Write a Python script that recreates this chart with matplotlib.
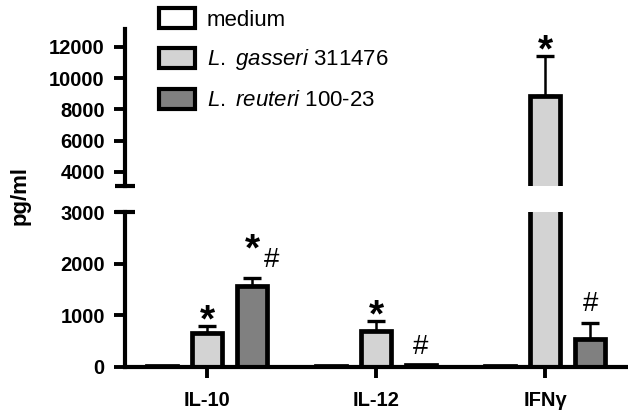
import matplotlib
matplotlib.use("Agg")
import matplotlib.pyplot as plt
import numpy as np
from matplotlib.patches import Patch

plt.rcParams['font.family'] = ['Liberation Sans', 'DejaVu Sans']
plt.rcParams['mathtext.fontset'] = 'custom'
plt.rcParams['mathtext.it'] = 'Liberation Sans:italic'
plt.rcParams['mathtext.rm'] = 'Liberation Sans'

# ---- data ----
cytokines = ["IL-10", "IL-12", "IFNγ"]
series = ["medium", "L. gasseri 311476", "L. reuteri 100-23"]
medium = [10, 10, 10]
medium_err = [0, 0, 0]
gasseri = [650, 690, 8850]
gasseri_err = [140, 200, 2580]
reuteri = [1560, 30, 540]
reuteri_err = [170, 0, 320]
colors = ["white", "#d3d3d3", "#808080"]
legend_labels = ["medium", r"$\mathit{L.\ gasseri}$ 311476", r"$\mathit{L.\ reuteri}$ 100-23"]
upper_ticks = [4000, 6000, 8000, 10000, 12000]
lower_ticks = [0, 1000, 2000, 3000]
# significance marks: (series index, group index, text)
marks = [(1, 0, "*"), (2, 0, "*#"), (1, 1, "*"), (2, 1, "#"), (1, 2, "*"), (2, 2, "#")]

values = [medium, gasseri, reuteri]
errors = [medium_err, gasseri_err, reuteri_err]

W, H = 628, 413
fig = plt.figure(figsize=(W / 100, H / 100), dpi=100)
left = 125 / W
ax_top = fig.add_axes([left, 1 - 186 / H, 1 - left, (186 - 29) / H])
ax_bot = fig.add_axes([left, 1 - 367 / H, 1 - left, (367 - 212) / H])

x = np.arange(len(cytokines))
offset = 0.266
width = 0.178
lw = 3.4
tick_fs = 14.5

for ax in (ax_top, ax_bot):
    for i, (vals, errs, col) in enumerate(zip(values, errors, colors)):
        pos = x + (i - 1) * offset
        ax.bar(pos, vals, width=width, color=col, edgecolor="black", linewidth=lw, zorder=2)
        errs_up = np.array(errs)
        has = errs_up > 0
        if has.any():
            ax.errorbar(pos[has], np.array(vals)[has], yerr=[np.zeros(has.sum()), errs_up[has]],
                        fmt="none", ecolor="black", elinewidth=1.8, capsize=6.5, capthick=2.4, zorder=1)
    ax.set_xlim(-0.485, 2.49)
    for s in ("top", "right"):
        ax.spines[s].set_visible(False)
    ax.spines["left"].set_linewidth(3)
    ax.tick_params(axis="y", direction="out", length=8, width=2.8, pad=6.5)

ax_top.set_ylim(3100, 13150)
ax_top.set_yticks(upper_ticks)
ax_top.set_yticklabels([str(t) for t in upper_ticks], fontweight="bold", fontsize=tick_fs)
ax_top.spines["bottom"].set_visible(False)
ax_top.tick_params(axis="x", bottom=False, labelbottom=False)

ax_bot.set_ylim(0, 3000)
ax_bot.set_yticks(lower_ticks)
ax_bot.set_yticklabels([str(t) for t in lower_ticks], fontweight="bold", fontsize=tick_fs)
ax_bot.spines["bottom"].set_linewidth(3)
ax_bot.spines["bottom"].set_zorder(3)
ax_bot.set_xticks(x)
ax_bot.set_xticklabels(cytokines, fontweight="bold", fontsize=tick_fs)
ax_bot.tick_params(axis="x", direction="out", length=8, width=2.8, pad=9)

# break caps on the y axis
ax_top.plot([0], [0], marker="_", markersize=14, mew=3, color="black",
            transform=ax_top.transAxes, clip_on=False)
ax_bot.plot([0], [1], marker="_", markersize=14, mew=3, color="black",
            transform=ax_bot.transAxes, clip_on=False)

# significance marks
star_kw = dict(ha="center", va="baseline", fontsize=28, fontweight="bold", textcoords="offset points")
hash_kw = dict(ha="center", va="baseline", fontsize=20, textcoords="offset points")
for si, gi, txt in marks:
    xpos = x[gi] + (si - 1) * offset
    top = values[si][gi] + errors[si][gi]
    ax = ax_top if top > 3000 else ax_bot
    if txt == "*":
        ax.annotate("*", (xpos, top), xytext=(0, -4), **star_kw)
    elif txt == "#":
        ax.annotate("#", (xpos, top), xytext=(0, 8), **hash_kw)
    else:
        ax.annotate("*", (xpos, top), xytext=(0, 12), **star_kw)
        ax.annotate("#", (xpos, top), xytext=(14, 7.5), **hash_kw)

fig.text(20 / W, 1 - 195 / H, "pg/ml", rotation=90, ha="center", va="center",
         fontsize=16, fontweight="bold")

handles = [Patch(facecolor=c, edgecolor="black", linewidth=3) for c in colors]
fig.legend(handles, legend_labels, loc="upper left", bbox_to_anchor=(159 / W, 1 - 8 / H),
           frameon=False, fontsize=16, handlelength=1.6, handleheight=1.0,
           handletextpad=0.55, labelspacing=0.75, borderpad=0, borderaxespad=0)

fig.savefig("out.png", dpi=100)
